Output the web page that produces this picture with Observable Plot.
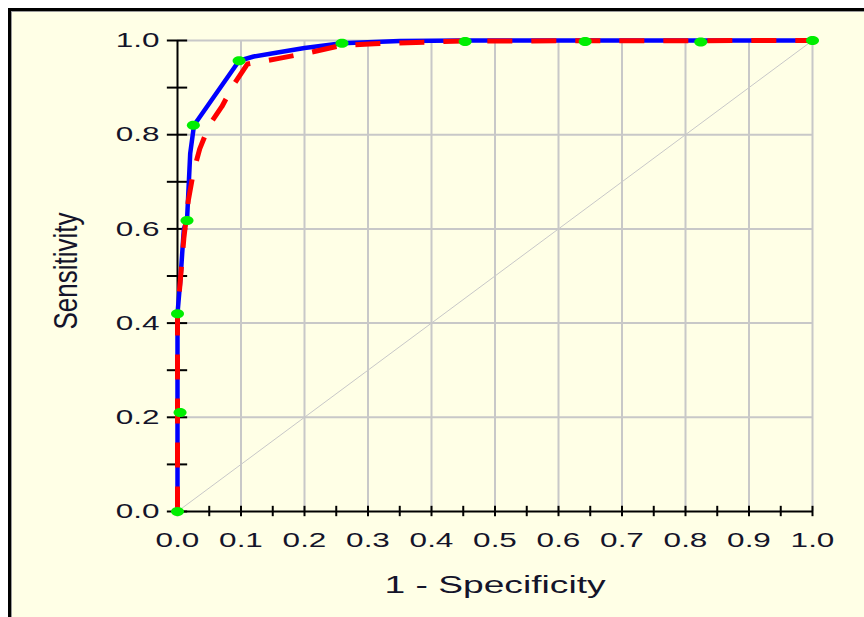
<!DOCTYPE html>
<html>
<head>
<meta charset="utf-8">
<script src="https://cdn.jsdelivr.net/npm/d3@7"></script>
<script src="https://cdn.jsdelivr.net/npm/@observablehq/plot@0.6"></script>
<style>
  html, body { margin: 0; padding: 0; background: #ffffff; overflow: hidden; }
  #wrap { position: relative; width: 864px; height: 617px; overflow: hidden; background: #ffffff; }
  #panel { position: absolute; left: 8px; top: 8px; width: 900px; height: 700px;
           background: #FFFFE6; border-left: 3px solid #000; border-top: 3px solid #000;
           box-shadow: inset 1px 1px 0 #9a9a9a; }
  #chart { position: absolute; left: 0; top: 0; }
</style>
</head>
<body>
<div id="wrap"><div id="panel"></div><div id="chart"></div></div>
<script>
// ---- data ----
const blueX = [0, 0, 0.005, 0.010, 0.015, 0.020, 0.026, 0.097, 0.120, 0.160, 0.200, 0.259, 0.350, 0.450, 1.0];
const blueY = [0, 0.42, 0.50, 0.600, 0.618, 0.760, 0.820, 0.957, 0.966, 0.975, 0.984, 0.994, 0.999, 1.000, 1.0];

const redX = [0, 0, 0.005, 0.010, 0.017, 0.025, 0.035, 0.050, 0.070, 0.088, 0.110, 0.160, 0.210, 0.260, 0.310, 0.450, 1.0];
const redY = [0, 0.42, 0.50, 0.580, 0.660, 0.720, 0.770, 0.820, 0.860, 0.905, 0.950, 0.962, 0.975, 0.990, 0.993, 0.999, 1.0];

const dotX = [0, 0.004, 0, 0.015, 0.025, 0.097, 0.259, 0.453, 0.642, 0.824, 1.0];
const dotY = [0, 0.21, 0.42, 0.618, 0.820, 0.957, 0.994, 0.998, 0.998, 0.997, 1.0];

const xTickLabels = [0, 0.1, 0.2, 0.3, 0.4, 0.5, 0.6, 0.7, 0.8, 0.9, 1.0];
const yTickLabels = [0, 0.2, 0.4, 0.6, 0.8, 1.0];
const xMinorTicks = d3.range(0, 21).map(i => i * 0.05);
const yMinorTicks = d3.range(0, 11).map(i => i * 0.1);
const xGrid = [0.1, 0.2, 0.3, 0.4, 0.5, 0.6, 0.7, 0.8, 0.9, 1.0];
const yGrid = [0.2, 0.4, 0.6, 0.8, 1.0];
const diag = [0, 1];

const xTitle = "1 - Specificity";
const yTitle = "Sensitivity";

// ---- tables ----
const blue = blueX.map((x, i) => ({x, y: blueY[i]}));
const red = redX.map((x, i) => ({x, y: redY[i]}));
const dots = dotX.map((x, i) => ({x, y: dotY[i]}));

// ellipse symbol for the green markers
const ellipse = {
  draw(context, size) {
    const rx = 6.5, ry = 4.5, k = 0.5523;
    context.moveTo(rx, 0);
    context.bezierCurveTo(rx, k * ry, k * rx, ry, 0, ry);
    context.bezierCurveTo(-k * rx, ry, -rx, k * ry, -rx, 0);
    context.bezierCurveTo(-rx, -k * ry, -k * rx, -ry, 0, -ry);
    context.bezierCurveTo(k * rx, -ry, rx, -k * ry, rx, 0);
    context.closePath();
  }
};

const font = "Liberation Sans, Arial, sans-serif";
const txt = "#14142a";

const chart = Plot.plot({
  width: 864,
  height: 617,
  marginLeft: 177,
  marginRight: 52,
  marginTop: 40,
  marginBottom: 106,
  style: {background: "transparent", fontFamily: font, overflow: "visible"},
  x: {domain: [0, 1], axis: null},
  y: {domain: [0, 1], axis: null},
  marks: [
    Plot.ruleX(xGrid, {stroke: "#c8c8c8", strokeWidth: 2}),
    Plot.ruleY(yGrid, {stroke: "#c8c8c8", strokeWidth: 2}),
    Plot.line(diag, {x: d => d, y: d => d, stroke: "#c8c8c8", strokeWidth: 1}),
    Plot.ruleX([0], {stroke: "#000", strokeWidth: 2}),
    Plot.ruleY([0], {stroke: "#000", strokeWidth: 2}),
    Plot.ruleY(yMinorTicks, {x1: -0.016, x2: 0.016, stroke: "#000", strokeWidth: 2}),
    Plot.ruleX(xMinorTicks, {y1: -0.011, y2: 0.011, stroke: "#000", strokeWidth: 2}),
    Plot.line(blue, {x: "x", y: "y", stroke: "#0000ff", strokeWidth: 4.5, strokeLinejoin: "round"}),
    Plot.line(red, {x: "x", y: "y", stroke: "#ff0000", strokeWidth: 5, strokeDasharray: "25,19", strokeLinecap: "butt"}),
    Plot.dot(dots, {x: "x", y: "y", symbol: ellipse, r: 4, fill: "#00ee00", stroke: "none"}),
    // tick labels and titles (order matters for post-processing)
    Plot.text(yTickLabels, {x: 0, y: d => d, text: d => d3.format(".1f")(d), textAnchor: "end", dx: -18,
      fontSize: 21, fill: txt, fontFamily: font}),
    Plot.text(xTickLabels, {x: d => d, y: 0, text: d => d3.format(".1f")(d), dy: 29,
      fontSize: 21, fill: txt, fontFamily: font}),
    Plot.text([xTitle], {frameAnchor: "bottom", lineAnchor: "middle", text: d => d, dy: 74, fontSize: 24, fill: txt, fontFamily: font}),
    Plot.text([yTitle], {frameAnchor: "left", textAnchor: "middle", lineAnchor: "middle", text: d => d, dx: -111, dy: -5, rotate: -90, fontSize: 26, fill: txt, fontFamily: font})
  ]
});

document.getElementById("chart").appendChild(chart);

// stretch text horizontally like the reference's widened rendering
const textGroups = chart.querySelectorAll('g[aria-label="text"]');
const scales = ["scale(1.5,1)", "scale(1.5,1)", "scale(1.55,1)", "scale(1,1.25)"];
textGroups.forEach((g, gi) => {
  g.querySelectorAll("text").forEach(t => {
    const tr = t.getAttribute("transform") || "";
    t.setAttribute("transform", tr + " " + scales[gi]);
  });
});
</script>
</body>
</html>
